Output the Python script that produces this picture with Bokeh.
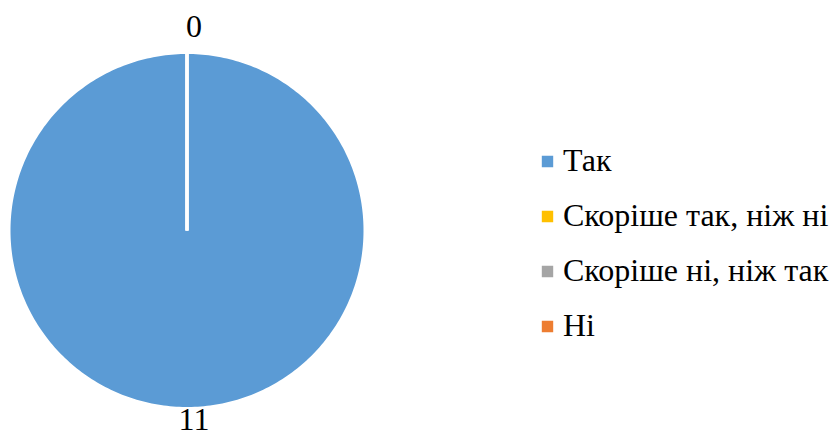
import math
from bokeh.plotting import figure
from bokeh.models import ColumnDataSource, Range1d, Legend, LegendItem
from bokeh.core.properties import value
from bokeh.embed import file_html
from bokeh.resources import INLINE

categories = ["Так", "Скоріше так, ніж ні", "Скоріше ні, ніж так", "Ні"]
counts = [11, 0, 0, 0]
colors = ["#5B9BD5", "#FFC000", "#A5A5A5", "#ED7D31"]

W, H = 832, 437
CX, CY, R = 186.5, 207, 178
FONT = "Liberation Serif"

total = sum(counts)
starts, ends, mids = [], [], []
acc = 0
for c in counts:
    s = math.pi / 2 - 2 * math.pi * acc / total
    acc += c
    e = math.pi / 2 - 2 * math.pi * acc / total
    starts.append(s)
    ends.append(e)
    mids.append((s + e) / 2)

p = figure(width=W, height=H, output_backend="svg", toolbar_location=None,
           x_range=Range1d(0, W), y_range=Range1d(0, H),
           min_border=0, outline_line_color=None)
p.axis.visible = False
p.grid.visible = False
p.background_fill_color = "white"

items = []
for i, cat in enumerate(categories):
    n = max(1, int(abs(ends[i] - starts[i]) / (2 * math.pi) * 360))
    xs, ys = [CX], [CY]
    for k in range(n + 1):
        a = starts[i] + (ends[i] - starts[i]) * k / n
        xs.append(CX + R * math.cos(a))
        ys.append(CY + R * math.sin(a))
    src = ColumnDataSource(dict(xs=[xs], ys=[ys]))
    r = p.patches(xs="xs", ys="ys", fill_color=colors[i], line_color="white",
                  line_width=3, line_join="miter", source=src)
    items.append(LegendItem(label=cat, renderers=[r]))

# data labels (identical overlapping labels drawn once)
seen = set()
lx, ly, lt = [], [], []
for i, c in enumerate(counts):
    key = (round(mids[i], 6), c)
    if key in seen:
        continue
    seen.add(key)
    dist = R + (26 if c == 0 else 11)
    lx.append(CX + 7 + dist * math.cos(mids[i]))
    ly.append(CY + dist * math.sin(mids[i]))
    lt.append(str(c))
p.text(x=lx, y=ly, text=lt, text_font=value(FONT), text_font_size="32px",
       text_align="center", text_baseline="middle", text_color="black")

legend = Legend(items=items, location=(538, 84), orientation="vertical",
                label_text_font=FONT, label_text_font_size="32px",
                label_text_color="black", label_height=55,
                glyph_width=18, glyph_height=18, label_standoff=7,
                spacing=0, padding=0, margin=0,
                border_line_color=None, background_fill_alpha=0)
p.add_layout(legend, "center")

open("out.html", "w").write(file_html(p, INLINE))
